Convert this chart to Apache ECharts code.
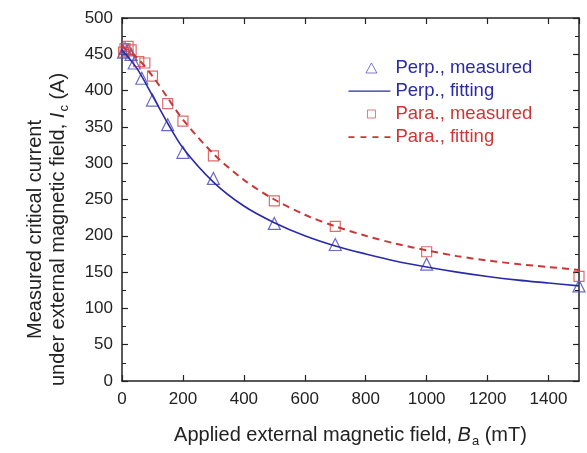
<!DOCTYPE html>
<html>
<head>
<meta charset="utf-8">
<script src="https://cdn.jsdelivr.net/npm/echarts@6/dist/echarts.min.js"></script>
<style>
  html, body { margin: 0; padding: 0; background: #fff; }
  #chart { width: 587px; height: 453px; }
</style>
</head>
<body>
<div id="chart"></div>
<script>
// values: [field (mT), current (A)]
const perpMeasured = [[5, 453], [10, 458], [20, 456], [30, 450], [40, 438], [65, 417], [100, 387],
  [150, 353], [200, 315], [300, 279], [500, 217], [700, 188], [1000, 161], [1500, 131]];
const paraMeasured = [[5, 453], [10, 458], [20, 461], [30, 456], [55, 440], [75, 438], [100, 420],
  [150, 382], [200, 358], [300, 310], [500, 248], [700, 213], [1000, 178], [1500, 144]];
const perpFitting = [[0, 456], [50, 430], [100, 393], [150, 355], [200, 321], [300, 274], [400, 241],
  [500, 218], [600, 200], [700, 186], [800, 175], [900, 165], [1000, 157], [1100, 150],
  [1200, 144], [1300, 139], [1400, 135], [1500, 131]];
const paraFitting = [[0, 461], [50, 445], [100, 420], [150, 390], [200, 360], [300, 313], [400, 277],
  [500, 250], [600, 229], [700, 213], [800, 200], [900, 189], [1000, 180], [1100, 172],
  [1200, 166], [1300, 161], [1400, 157], [1500, 153]];
const seriesNames = ['Perp., measured', 'Perp., fitting', 'Para., measured', 'Para., fitting'];

const blue = '#2a2aa8';
const red = '#cc3636';
const font = 'Liberation Sans, Arial, sans-serif';
const ink = '#222';

// legend icons, all drawn in a 42x10 box (the lone moveTo points fix the box)
const box = 'M0,0 M42,10 ';
const solidIcon = 'path://M0,0h0.01v0.01h-0.01z M0,4.4h42v1.3h-42z M41.99,9.99h0.01v0.01h-0.01z';
const dashIcon = 'path://M0,0h0.01v0.01h-0.01z M0,4.2h6v1.7h-6z M12,4.2h6v1.7h-6z M24,4.2h6v1.7h-6z M36,4.2h6v1.7h-6z M41.99,9.99h0.01v0.01h-0.01z';
const triIcon = 'path://' + box + 'M23,0 L28.5,10 L17.5,10 Z';
const rectIcon = 'path://' + box + 'M19,1h8v8h-8z';

const chart = echarts.init(document.getElementById('chart'));

const boxAxis = {
  axisLine: { show: true, onZero: false, lineStyle: { color: ink, width: 1.5 } },
  axisTick: { show: true, inside: true, length: 6, lineStyle: { color: ink, width: 1.2 } },
  minorTick: { show: false },
  splitLine: { show: false }
};
const yMinor = { show: true, splitNumber: 2, length: 4, lineStyle: { color: ink, width: 1 } };

const option = {
  animation: false,
  grid: { left: 122, right: 8, top: 18, bottom: 64 },
  legend: {
    orient: 'vertical',
    left: 343,
    top: 52,
    itemGap: 1,
    itemWidth: 42,
    itemHeight: 10,
    textStyle: { fontFamily: font, fontSize: 18.5, lineHeight: 22 },
    data: [
      { name: seriesNames[0], icon: triIcon, itemStyle: { borderWidth: 0.9 }, textStyle: { color: blue } },
      { name: seriesNames[1], icon: solidIcon, textStyle: { color: blue } },
      { name: seriesNames[2], icon: rectIcon, itemStyle: { borderWidth: 0.9 }, textStyle: { color: red } },
      { name: seriesNames[3], icon: dashIcon, textStyle: { color: red } }
    ]
  },
  xAxis: [
    Object.assign({}, boxAxis, {
      type: 'value', min: 0, max: 1500, interval: 200,
      name: '{t|Applied external magnetic field, }{i|B}{s|a}{t| (mT)}',
      nameLocation: 'middle', nameGap: 42,
      nameTextStyle: {
        rich: {
          t: { fontFamily: font, fontSize: 20, color: ink },
          i: { fontFamily: font, fontSize: 20, color: ink, fontStyle: 'italic' },
          s: { fontFamily: font, fontSize: 13, color: ink, padding: [12, 0, 0, 1] }
        }
      },
      axisLabel: { fontFamily: font, fontSize: 17, color: ink, margin: 10,
        showMaxLabel: false, formatter: v => String(v) }
    }),
    Object.assign({}, boxAxis, {
      type: 'value', min: 0, max: 1500, interval: 200, position: 'top',
      axisLabel: { show: false }
    })
  ],
  yAxis: [
    Object.assign({}, boxAxis, {
      type: 'value', min: 0, max: 500, interval: 50, minorTick: yMinor,
      name: '{t|Measured critical current}\n{t|under external magnetic field, }{i|I}{s|c}{t| (A)}',
      nameLocation: 'middle', nameGap: 52,
      nameTextStyle: {
        lineHeight: 23,
        padding: [0, 60, 0, 0],
        rich: {
          t: { fontFamily: font, fontSize: 20, color: ink, lineHeight: 23 },
          i: { fontFamily: font, fontSize: 20, color: ink, fontStyle: 'italic', lineHeight: 23 },
          s: { fontFamily: font, fontSize: 13, color: ink, padding: [12, 0, 0, 1], lineHeight: 23 }
        }
      },
      axisLabel: { fontFamily: font, fontSize: 17, color: ink, margin: 9 }
    }),
    Object.assign({}, boxAxis, {
      type: 'value', min: 0, max: 500, interval: 50, position: 'right', minorTick: yMinor,
      axisLabel: { show: false }
    })
  ],
  series: [
    {
      name: seriesNames[1], type: 'line', data: perpFitting, smooth: 0.3,
      showSymbol: false, symbol: 'none',
      lineStyle: { color: blue, width: 1.6 }, itemStyle: { color: blue }
    },
    {
      name: seriesNames[3], type: 'line', data: paraFitting, smooth: 0.3,
      showSymbol: false, symbol: 'none',
      lineStyle: { color: red, width: 2, type: [7, 5] }, itemStyle: { color: red }
    },
    {
      name: seriesNames[0], type: 'scatter', data: perpMeasured,
      symbol: 'triangle', symbolSize: 12,
      itemStyle: { color: 'rgba(255,255,255,0)', borderColor: '#4646b8', borderWidth: 1.2 }
    },
    {
      name: seriesNames[2], type: 'scatter', data: paraMeasured,
      symbol: 'rect', symbolSize: 10,
      itemStyle: { color: 'rgba(255,255,255,0)', borderColor: '#d04a4a', borderWidth: 1.2 }
    }
  ]
};

chart.setOption(option);
</script>
</body>
</html>
